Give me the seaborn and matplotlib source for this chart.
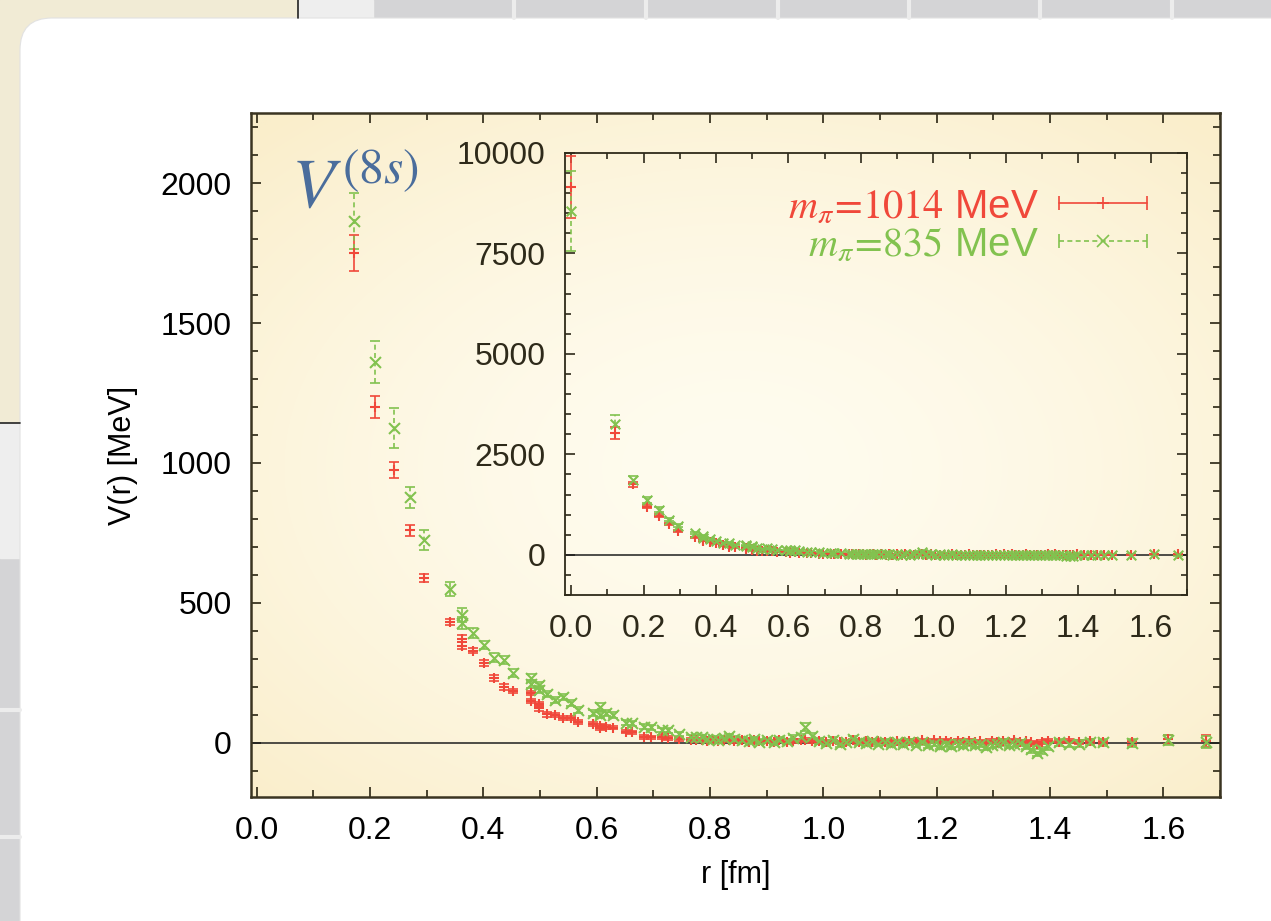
import numpy as np
import matplotlib
matplotlib.use("Agg")
import matplotlib.pyplot as plt
from matplotlib.patches import FancyBboxPatch, Rectangle
from matplotlib.lines import Line2D
from matplotlib.legend_handler import HandlerTuple, HandlerLine2D
from matplotlib.ticker import MultipleLocator, FormatStrFormatter
from matplotlib.colors import to_rgb
import seaborn as sns

# ---------------------------
# Data
# ---------------------------
r_fm = [0.000, 0.121, 0.171, 0.209, 0.242, 0.270, 0.296, 0.342, 0.363, 0.363,
        0.382, 0.401, 0.419, 0.436, 0.452, 0.484, 0.484, 0.499, 0.499, 0.513,
        0.527, 0.541, 0.554, 0.567, 0.593, 0.605, 0.605, 0.617, 0.628, 0.651,
        0.662, 0.684, 0.695, 0.716, 0.726, 0.746, 0.766, 0.776, 0.786, 0.795,
        0.805, 0.814, 0.824, 0.833, 0.842, 0.856, 0.869, 0.878, 0.887, 0.900,
        0.913, 0.922, 0.935, 0.947, 0.960, 0.968, 0.980, 0.993, 1.005, 1.017,
        1.029, 1.040, 1.052, 1.063, 1.075, 1.086, 1.097, 1.108, 1.119, 1.130,
        1.141, 1.152, 1.163, 1.174, 1.184, 1.195, 1.205, 1.216, 1.226, 1.237,
        1.247, 1.257, 1.267, 1.277, 1.287, 1.297, 1.307, 1.317, 1.327, 1.337,
        1.347, 1.357, 1.367, 1.377, 1.386, 1.396, 1.415, 1.434, 1.452, 1.470,
        1.494, 1.545, 1.608, 1.675]

v_1014 = [9150, 3025, 1750, 1200, 975, 760, 590, 432, 372, 348,
          330, 286, 232, 200, 186, 178, 150, 140, 124, 102,
          100, 90, 90, 76, 68, 54, 62, 57, 55, 40,
          38, 22, 20, 21, 18, 14, 12, 10, 12, 8,
          10, 6, 9, 12, 7, 10, 5, 11, 6, 8,
          4, 9, 5, 7, 10, 12, 6, 8, 3, 6,
          2, 5, 9, 4, 7, 3, 8, 5, 2, 6,
          3, 7, 4, 9, 5, 10, 6, 8, 3, 7,
          4, 8, 2, 6, 1, 7, 3, 8, 5, 9,
          4, 6, 2, -2, 4, 8, 5, 7, 3, 6,
          4, 2, 14, 8]
err_1014 = [775, 150, 65, 40, 28, 20, 15, 12, 12, 12,
            10, 10, 10, 9, 8, 8, 8, 8, 8, 8,
            7, 7, 7, 7, 7, 7, 7, 6, 6, 6,
            6, 6, 6, 6, 6, 6, 6, 6, 6, 6,
            6, 6, 6, 6, 6, 6, 6, 6, 6, 6,
            6, 6, 6, 6, 6, 6, 6, 6, 6, 6,
            6, 6, 6, 6, 6, 6, 6, 6, 6, 6,
            6, 6, 6, 6, 6, 6, 6, 6, 6, 6,
            6, 6, 6, 6, 6, 6, 6, 6, 6, 6,
            6, 6, 6, 6, 6, 6, 6, 6, 7, 7,
            7, 8, 16, 22]

v_835 = [8550, 3250, 1865, 1360, 1125, 878, 725, 550, 457, 428,
         393, 350, 305, 296, 250, 232, 212, 207, 190, 175,
         154, 164, 143, 118, 107, 129, 100, 107, 100, 72,
         70, 58, 56, 46, 45, 32, 22, 21, 20, 14,
         16, 10, 18, 24, 15, 12, 8, 14, 4, 10,
         2, 12, 6, 18, 22, 57, 26, 8, 0, 10,
         -4, 2, 14, 4, 0, 6, -2, 3, -5, 2,
         -3, 4, -6, 2, -8, -2, -10, -4, -12, -2,
         -6, 0, -8, -4, -14, -6, -2, 2, -8, -4,
         0, -10, -22, -34, -26, -12, 2, -4, -2, 4,
         2, 0, 12, 4]
err_835 = [1000, 220, 100, 75, 70, 38, 35, 25, 25, 22,
           18, 16, 15, 14, 13, 14, 14, 12, 12, 12,
           11, 11, 10, 10, 10, 14, 10, 10, 10, 9,
           9, 9, 9, 8, 8, 8, 8, 8, 8, 8,
           8, 8, 8, 9, 9, 9, 9, 9, 9, 9,
           9, 9, 9, 10, 10, 14, 10, 10, 10, 10,
           10, 10, 10, 10, 10, 10, 10, 10, 10, 10,
           10, 10, 10, 10, 10, 10, 10, 10, 11, 11,
           11, 11, 11, 11, 11, 11, 11, 11, 11, 11,
           11, 12, 12, 13, 12, 12, 12, 12, 12, 12,
           12, 14, 18, 22]

series_labels = [r"$m_\pi\!=\!1014$ MeV", r"$m_\pi\!=\!835$ MeV"]

RED = "#f0483a"
GREEN = "#82c24f"
FRAME = "#3a3421"
INK = "#2e2a1a"

sns.set_theme(style="ticks")
plt.rcParams["font.family"] = ["Liberation Sans", "DejaVu Sans"]
plt.rcParams["mathtext.fontset"] = "stix"

fig = plt.figure(figsize=(12.71, 9.21), dpi=100)

# ---------------------------
# slide background (pixel coords)
# ---------------------------
bg = fig.add_axes([0, 0, 1, 1], zorder=-10)
bg.set_xlim(0, 1271)
bg.set_ylim(921, 0)
bg.axis("off")
bg.add_patch(Rectangle((0, 0), 1271, 921, color="#d4d4d6"))
bg.add_patch(Rectangle((0, 0), 298, 423, color="#f1ebd5"))
bg.add_patch(Rectangle((298, 0), 75, 18, color="#eeeeee"))
bg.add_patch(Rectangle((0, 423), 20, 135, color="#eeeeee"))
shade = np.linspace(0.42, 0.84, 64)
bg.imshow(np.tile(shade, (2, 1)), cmap="gray", vmin=0, vmax=1, extent=(373, 430, 18, 0),
          aspect="auto", interpolation="bilinear")
bg.imshow(np.tile(shade, (2, 1)).T, cmap="gray", vmin=0, vmax=1, extent=(0, 20, 590, 558),
          aspect="auto", interpolation="bilinear")
for xs in [514, 646, 778, 909, 1040, 1172]:
    bg.plot([xs, xs], [0, 18], color="#ececec", lw=3)
for ys in [710, 837]:
    bg.plot([0, 20], [ys, ys], color="#ececec", lw=3)
bg.plot([0, 20], [423, 423], color="#222222", lw=1.2)
bg.plot([298, 298], [0, 18], color="#222222", lw=1.2)
bg.add_patch(FancyBboxPatch((20, 18), 1400, 1100, boxstyle="round,pad=0,rounding_size=32",
                            fc="white", ec="#e2e2e2", lw=0.8))
bg.set_xlim(0, 1271)
bg.set_ylim(921, 0)

# ---------------------------
# main axes
# ---------------------------
ax = fig.add_axes([0.1975, 0.1346, 0.7624, 0.7427])
yy, xx = np.mgrid[0:1:240j, 0:1:320j]
d = np.clip(np.sqrt(((xx - 0.5) / 0.72) ** 2 + ((yy - 0.52) / 0.68) ** 2), 0, 1)
c0 = np.array(to_rgb("#fffcef"))
c1 = np.array(to_rgb("#faeecb"))
ax.imshow(c0 + (c1 - c0) * d[..., None] ** 1.6, extent=(0, 1, 0, 1), transform=ax.transAxes,
          aspect="auto", zorder=0, interpolation="bilinear")


def draw_series(a, size):
    styles = [(v_1014, err_1014, RED, "+", "-"), (v_835, err_835, GREEN, "x", (0, (3, 2)))]
    for v, e, col, mk, ls in styles:
        eb = a.errorbar(r_fm, v, yerr=e, fmt="none", ecolor=col, elinewidth=1.2,
                        capsize=3.6, capthick=1.2, zorder=3)
        eb[2][0].set_linestyle(ls)
        sns.scatterplot(x=r_fm, y=v, marker=mk, color=col, s=size, linewidth=1.5,
                        ax=a, zorder=4, legend=False)
    a.axhline(0, color="#1e1e1e", lw=1.1, zorder=2)


draw_series(ax, 62)
ax.set_xlim(-0.01, 1.70)
ax.set_ylim(-193, 2250)
ax.xaxis.set_major_locator(MultipleLocator(0.2))
ax.xaxis.set_minor_locator(MultipleLocator(0.1))
ax.yaxis.set_major_locator(MultipleLocator(500))
ax.yaxis.set_minor_locator(MultipleLocator(100))
ax.xaxis.set_major_formatter(FormatStrFormatter("%.1f"))
ax.tick_params(which="both", direction="in", top=True, right=True, color=FRAME, width=1.3)
ax.tick_params(which="major", length=7.5, pad=14, labelsize=23, labelcolor="black")
ax.tick_params(which="minor", length=5)
for s in ax.spines.values():
    s.set_color(FRAME)
    s.set_linewidth(1.8)
ax.set_xlabel("r [fm]", fontsize=22, labelpad=10, color="black")
ax.set_ylabel("V(r) [MeV]", fontsize=22, labelpad=16, color="black")
ax.text(0.041, 0.862, r"$V^{(8s)}$", transform=ax.transAxes, fontsize=51,
        color="#4a6d9c", ha="left", va="baseline", zorder=5)

# ---------------------------
# inset
# ---------------------------
axi = fig.add_axes([0.4445, 0.3540, 0.4894, 0.4799])
axi.set_facecolor("none")
draw_series(axi, 48)
axi.set_xlim(-0.017, 1.70)
axi.set_ylim(-1000, 10000)
axi.xaxis.set_major_locator(MultipleLocator(0.2))
axi.xaxis.set_minor_locator(MultipleLocator(0.1))
axi.yaxis.set_major_locator(MultipleLocator(2500))
axi.yaxis.set_minor_locator(MultipleLocator(500))
axi.xaxis.set_major_formatter(FormatStrFormatter("%.1f"))
axi.tick_params(which="both", direction="in", top=True, right=True, color=INK, width=1.2)
axi.tick_params(which="major", length=7, pad=14, labelsize=23, labelcolor=INK)
axi.tick_params(which="minor", length=4.5)
for s in axi.spines.values():
    s.set_color(INK)
    s.set_linewidth(1.3)

handles = []
hmap = {tuple: HandlerTuple(ndivide=1, pad=0)}
for col, mk, ls in [(RED, "+", "-"), (GREEN, "x", (0, (3, 2)))]:
    caps = Line2D([], [], color=col, lw=1.2, ls=ls, marker="|", markersize=10, markeredgewidth=1.2)
    mid = Line2D([], [], color=col, lw=0, marker=mk, markersize=8, markeredgewidth=1.2)
    hmap[caps] = HandlerLine2D(numpoints=2, marker_pad=0)
    hmap[mid] = HandlerLine2D(numpoints=1)
    handles.append((caps, mid))
leg = axi.legend(handles, series_labels, handler_map=hmap, loc="upper right",
                 bbox_to_anchor=(0.936, 0.922), frameon=False, fontsize=29,
                 handlelength=2.2, handletextpad=0.5, markerfirst=False,
                 labelspacing=0.0, borderpad=0, borderaxespad=0)
for t, c in zip(leg.get_texts(), [RED, GREEN]):
    t.set_color(c)

fig.savefig("out.png", dpi=100)
